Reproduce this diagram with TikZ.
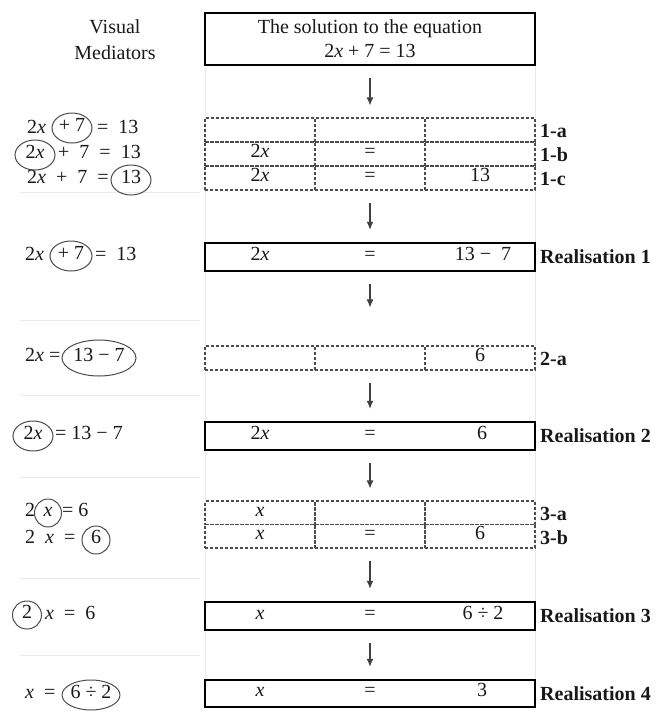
\documentclass[tikz,border=0pt]{standalone}
\usepackage{fontspec}
\setmainfont{Liberation Serif}
\usetikzlibrary{shapes.geometric,arrows.meta}
\newcommand\xv{\textit{x}}
\begin{document}
\begin{tikzpicture}[x=1pt,y=-1pt,
  font=\fontsize{20}{24}\selectfont,
  txt/.style={inner sep=0pt,text height=0.68em,text depth=0pt,text=black!90},
  circ/.style={ellipse,draw=black!70,line width=1pt,inner sep=0pt,minimum height=30pt,text height=0.68em,text depth=0pt,text=black!90},
  cell/.style={draw=black!70,dash pattern=on 3pt off 2pt,line width=1.1pt,minimum width=110pt,minimum height=24pt,inner sep=0pt,text height=0.68em,text depth=0pt,text=black!90},
  bigbox/.style={draw=black,line width=2.4pt,minimum width=330pt,inner sep=0pt},
  lab/.style={font=\fontsize{20}{24}\selectfont\bfseries,anchor=west,inner sep=0pt,text=black!90},
  flow/.style={draw=black!75,line width=1.2pt,-{Latex[length=8pt,width=7pt]},shorten <=12pt,shorten >=12pt},
  ghost/.style={draw=black!8,line width=0.8pt}
]
\fill[white] (0,0) rectangle (656,713);
\useasboundingbox (0,0) rectangle (656,713);
% faint table lines of the scan
\draw[ghost] (205,13) -- (205,707);
\draw[ghost] (535,13) -- (535,707);
\foreach \yy in {192,320,395,477,578,655} \draw[ghost] (20,\yy) -- (200,\yy);

% header
\node[align=center,text=black!90] (vm) at (115,40) {Visual\\[2pt]Mediators};
\node[bigbox,minimum height=52pt,align=center,text=black!90] (hdr) at (370,39) {The solution to the equation\\2\xv{} + 7 = 13};

% block 1
\node[cell] (a1) at (260,130) {};
\node[cell] (a2) at (370,130) {};
\node[cell] (a3) at (480,130) {};
\node[cell] (b1) at (260,154) {2\xv};
\node[cell] (b2) at (370,154) {=};
\node[cell] (b3) at (480,154) {};
\node[cell] (c1) at (260,178) {2\xv};
\node[cell] (c2) at (370,178) {=};
\node[cell] (c3) at (480,178) {13};
\node[lab] (la) at (540,131) {1-a};
\node[lab] (lb) at (540,155) {1-b};
\node[lab] (lc) at (540,179) {1-c};

\node[txt,anchor=west] (m1a) at (27,130) {2\xv};
\node[circ,minimum width=40pt] (m1b) at (72,128) {+ 7};
\node[txt,anchor=west] (m1c) at (97,130) {=\enspace13};
\node[circ,minimum width=40pt] (m2a) at (35,155) {2\xv};
\node[txt,anchor=west] (m2b) at (58,155) {+\enspace7\enspace=\enspace13};
\node[txt,anchor=west] (m3a) at (27,180) {2\xv\enspace+\enspace7\enspace=};
\node[circ,minimum width=40pt] (m3b) at (131,180) {13};

% realisation 1
\node[bigbox,minimum height=28pt] (r1) at (370,257) {};
\node[txt] (r1a) at (260,257) {2\xv};
\node[txt] (r1b) at (370,257) {=};
\node[txt] (r1c) at (483,257) {13 −\enspace7};
\node[lab] (lr1) at (540,257) {Realisation 1};
\node[txt,anchor=west] (n1a) at (25,257) {2\xv};
\node[circ,minimum width=42pt] (n1b) at (71,256) {+ 7};
\node[txt,anchor=west] (n1c) at (95,257) {=\enspace13};

% block 2
\node[cell] (d1) at (260,358) {};
\node[cell] (d2) at (370,358) {};
\node[cell] (d3) at (480,358) {6};
\node[lab] (ld) at (540,359) {2-a};
\node[txt,anchor=west] (p1a) at (25,358) {2\xv{} =};
\node[circ,minimum width=74pt,minimum height=36pt] (p1b) at (99,358) {13 − 7};

% realisation 2
\node[bigbox,minimum height=28pt] (r2) at (370,436) {};
\node[txt] (r2a) at (260,436) {2\xv};
\node[txt] (r2b) at (370,436) {=};
\node[txt] (r2c) at (482,436) {6};
\node[lab] (lr2) at (540,436) {Realisation 2};
\node[circ,minimum width=40pt] (q1a) at (33,436) {2\xv};
\node[txt,anchor=west] (q1b) at (55,436) {= 13 − 7};

% block 3
\node[cell,minimum height=23.5pt] (e1) at (260,512.75) {\xv};
\node[cell,minimum height=23.5pt] (e2) at (370,512.75) {};
\node[cell,minimum height=23.5pt] (e3) at (480,512.75) {};
\node[cell,minimum height=23.5pt] (f1) at (260,536.25) {\xv};
\node[cell,minimum height=23.5pt] (f2) at (370,536.25) {=};
\node[cell,minimum height=23.5pt] (f3) at (480,536.25) {6};
\node[lab] (le) at (540,514) {3-a};
\node[lab] (lf) at (540,538) {3-b};
\node[txt,anchor=west] (s1a) at (25,513) {2};
\node[circ,minimum width=27pt,minimum height=28pt] (s1b) at (48,513) {\xv};
\node[txt,anchor=west] (s1c) at (62,513) {= 6};
\node[txt,anchor=west] (s2a) at (25,540) {2\enspace\xv\enspace=};
\node[circ,minimum width=28pt,minimum height=28pt] (s2b) at (96,540) {6};

% realisation 3
\node[bigbox,minimum height=28pt] (r3) at (370,616) {};
\node[txt] (r3a) at (260,616) {\xv};
\node[txt] (r3b) at (370,616) {=};
\node[txt] (r3c) at (483,616) {6 ÷ 2};
\node[lab] (lr3) at (540,616) {Realisation 3};
\node[circ,minimum width=29pt,minimum height=28pt] (t1a) at (27,615) {2};
\node[txt,anchor=west] (t1b) at (45,616) {\xv\enspace=\enspace6};

% realisation 4
\node[bigbox,minimum height=27pt] (r4) at (370,693.5) {};
\node[txt] (r4a) at (260,693.5) {\xv};
\node[txt] (r4b) at (370,693.5) {=};
\node[txt] (r4c) at (482,693.5) {3};
\node[lab] (lr4) at (540,693.5) {Realisation 4};
\node[txt,anchor=west] (u1a) at (25,695) {\xv\enspace=};
\node[circ,minimum width=53pt] (u1b) at (91,695) {6 ÷ 2};

% arrows
\draw[flow] (hdr.south) -- (a2.north);
\draw[flow] (c2.south) -- (r1.north);
\draw[flow,shorten >=38pt] (r1.south) -- (d2.north);
\draw[flow] (d2.south) -- (r2.north);
\draw[flow] (r2.south) -- (e2.north);
\draw[flow] (f2.south) -- (r3.north);
\draw[flow] (r3.south) -- (r4.north);
\end{tikzpicture}
\end{document}
